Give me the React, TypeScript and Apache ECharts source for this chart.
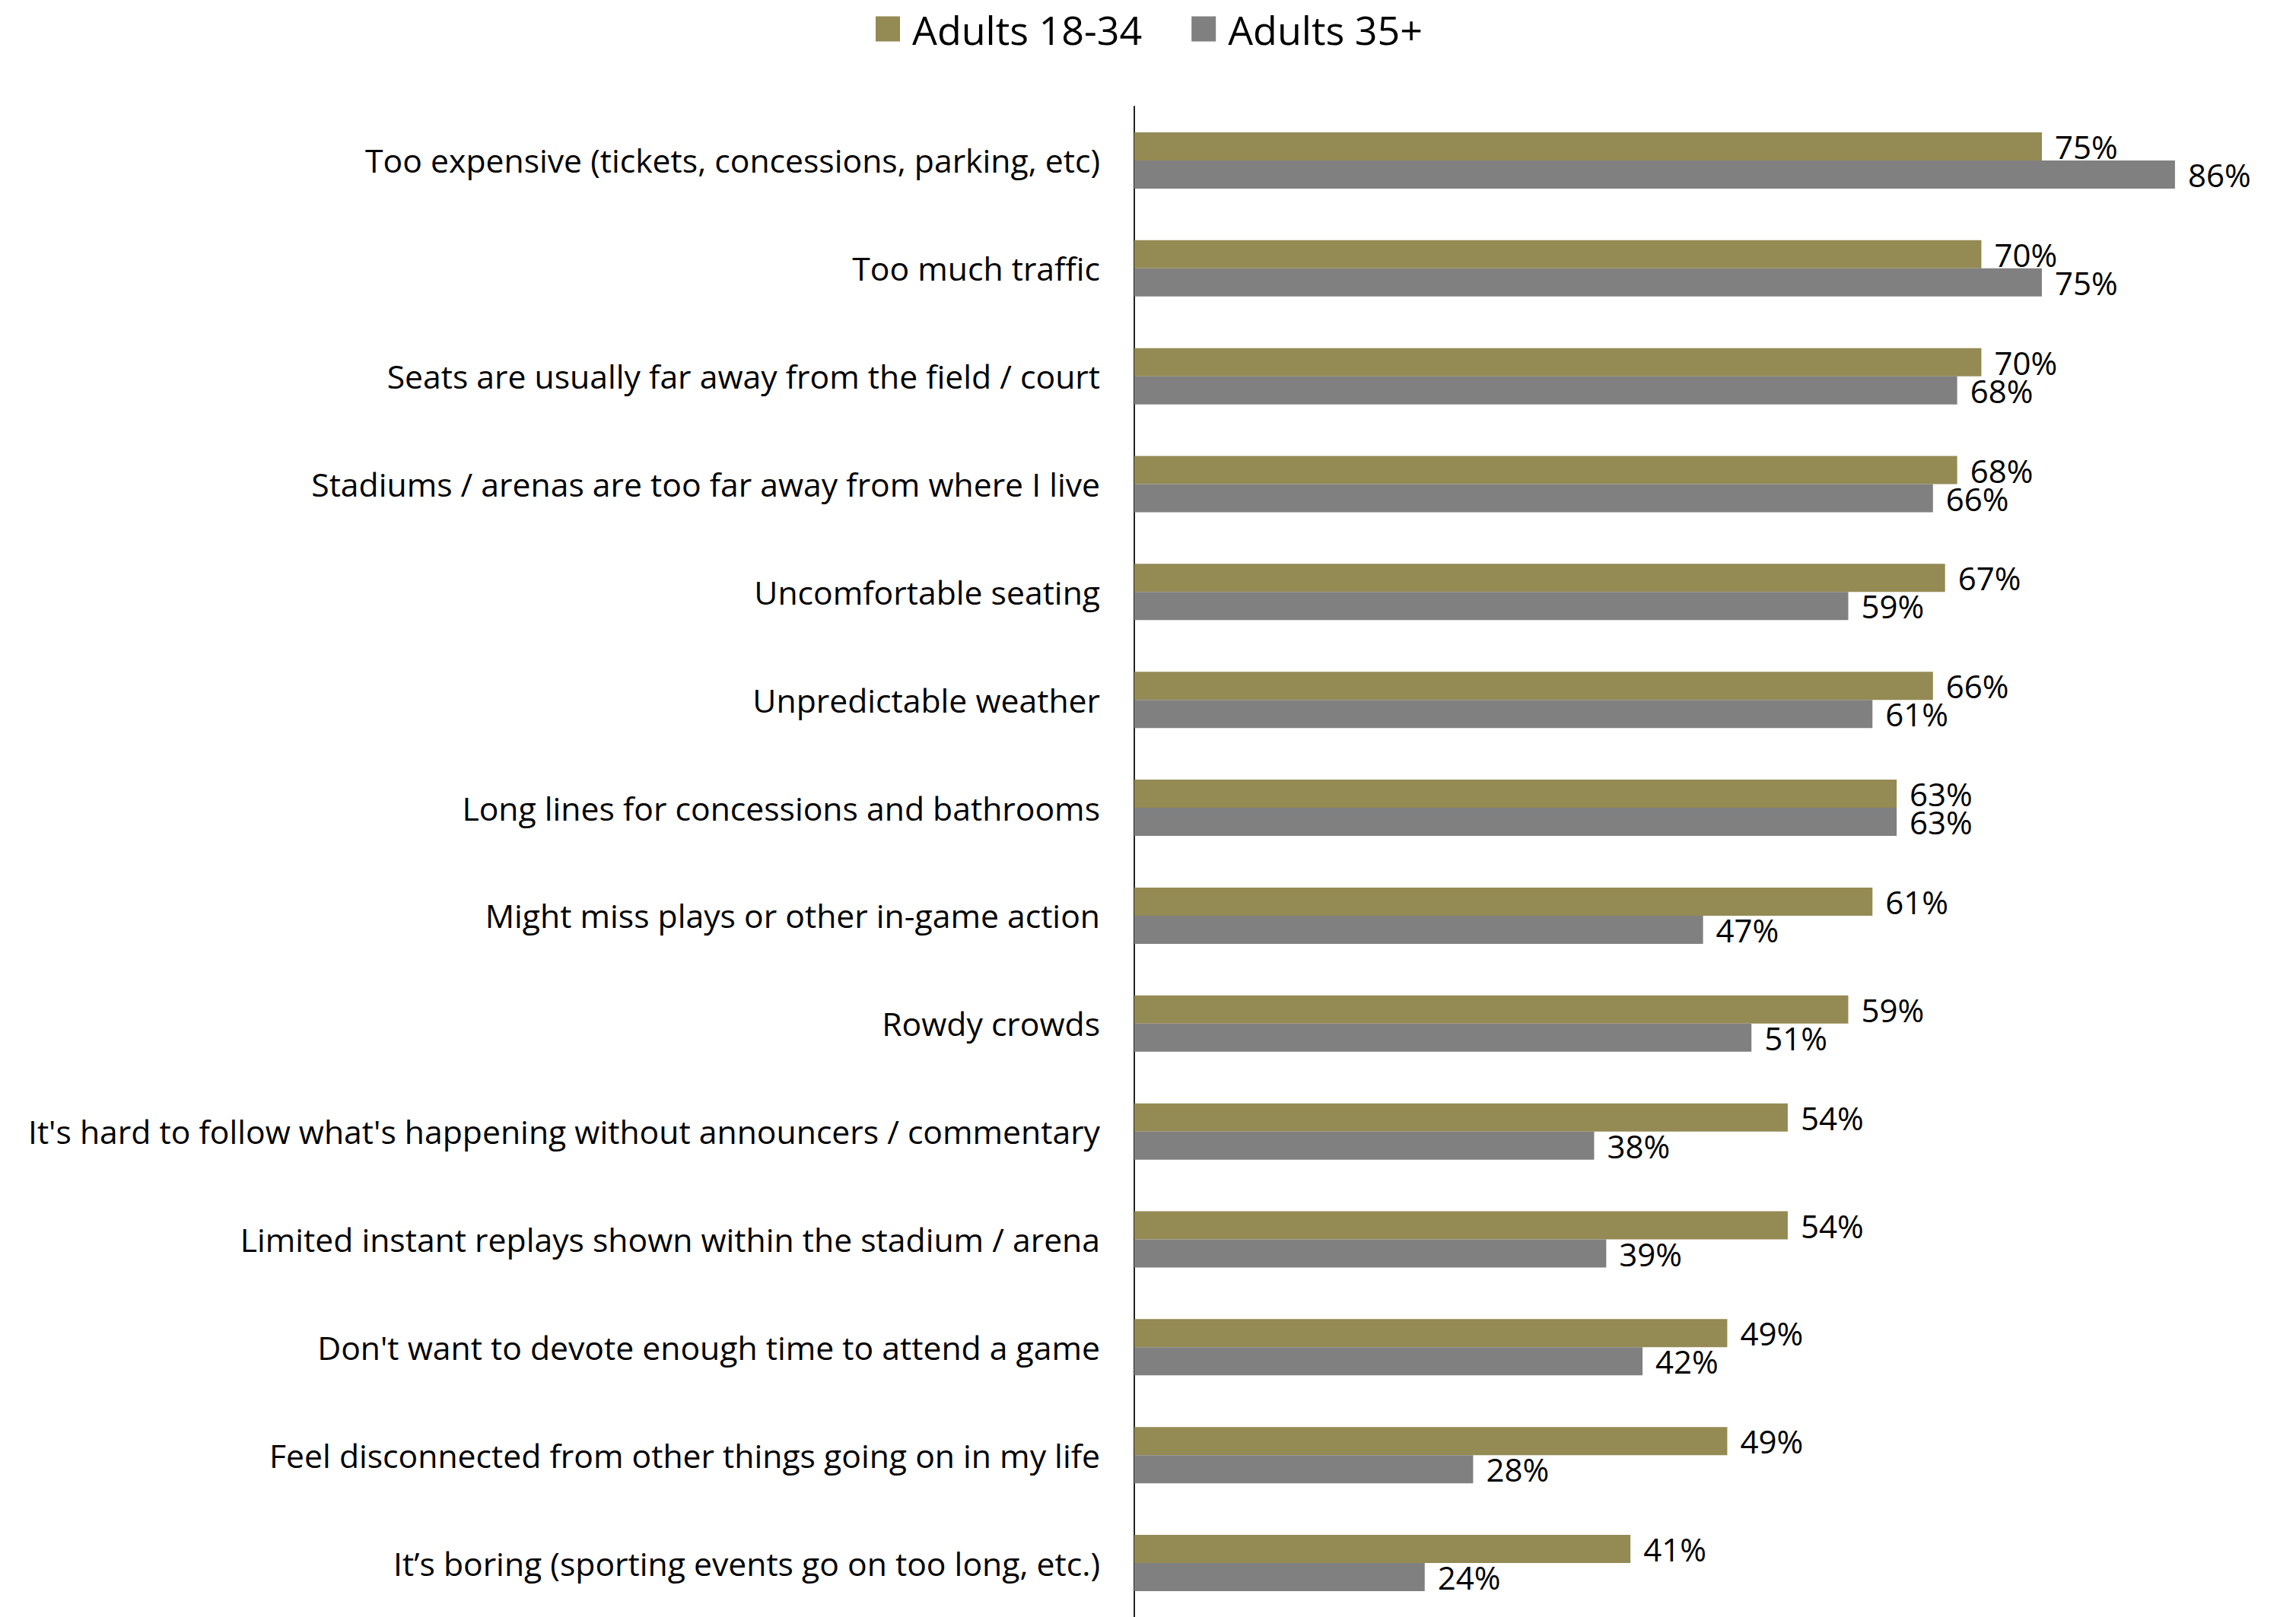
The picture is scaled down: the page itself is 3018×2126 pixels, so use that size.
import React, { useEffect, useRef } from "react";
import * as echarts from "echarts";

const categories = [
  "Too expensive (tickets, concessions, parking, etc)",
  "Too much traffic",
  "Seats are usually far away from the field / court",
  "Stadiums / arenas are too far away from where I live",
  "Uncomfortable seating",
  "Unpredictable weather",
  "Long lines for concessions and bathrooms",
  "Might miss plays or other in-game action",
  "Rowdy crowds",
  "It's hard to follow what's happening without announcers / commentary",
  "Limited instant replays shown within the stadium / arena",
  "Don't want to devote enough time to attend a game",
  "Feel disconnected from other things going on in my life",
  "It’s boring (sporting events go on too long, etc.)",
];

const adults1834 = [75, 70, 70, 68, 67, 66, 63, 61, 59, 54, 54, 49, 49, 41];
const adults35 = [86, 75, 68, 66, 59, 61, 63, 47, 51, 38, 39, 42, 28, 24];

const seriesNames = ["Adults 18-34", "Adults 35+"];
const colors = ["#948A54", "#808080"];

export default function App() {
  const ref = useRef<HTMLDivElement>(null);
  useEffect(() => {
    if (!ref.current) return;
    const chart = echarts.init(ref.current, null, { renderer: "svg" });
    const font = "'Open Sans', 'Noto Sans', sans-serif";
    const labelCfg = {
      show: true,
      position: "right",
      distance: 17,
      formatter: "{c}%",
      fontSize: 42,
      lineHeight: 36,
      fontFamily: font,
      color: "#000",
    };
    chart.setOption({
      animation: false,
      backgroundColor: "#fff",
      color: colors,
      legend: {
        data: seriesNames,
        left: 1146,
        top: 7,
        itemWidth: 32,
        itemHeight: 33,
        itemGap: 65,
        icon: "rect",
        textStyle: {
          fontSize: 52,
          fontFamily: font,
          color: "#000",
          padding: [0, 0, 0, 11],
        },
      },
      grid: { left: 1491, top: 140, width: 1527, height: 1998, containLabel: false },
      xAxis: {
        type: "value",
        min: 0,
        max: 96,
        show: false,
      },
      yAxis: {
        type: "category",
        data: categories,
        inverse: true,
        axisTick: { show: false },
        axisLine: { show: true, lineStyle: { color: "#222", width: 2 } },
        splitLine: { show: false },
        axisLabel: {
          margin: 45,
          fontSize: 42.7,
          fontFamily: font,
          color: "#000",
        },
      },
      series: [
        {
          name: seriesNames[0],
          type: "bar",
          data: adults1834,
          barWidth: 37,
          barGap: "0%",
          itemStyle: { color: colors[0] },
          label: labelCfg,
        },
        {
          name: seriesNames[1],
          type: "bar",
          data: adults35,
          barWidth: 37,
          barGap: "0%",
          itemStyle: { color: colors[1] },
          label: labelCfg,
        },
      ],
    });
    return () => chart.dispose();
  }, []);
  return (
    <div
      ref={ref}
      style={{ position: "fixed", left: 0, top: 0, width: 3018, height: 2126 }}
    />
  );
}
